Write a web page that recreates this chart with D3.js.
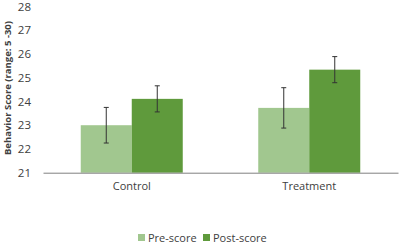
<!DOCTYPE html>
<html><head><meta charset="utf-8">
<script src="https://cdn.jsdelivr.net/npm/d3@7"></script>
<style>body{margin:0;background:#fff}svg{display:block}text{font-family:"Open Sans",Calibri,sans-serif}</style>
</head><body><svg id="c" width="400" height="245"></svg>
<script>
const categories = ["Control", "Treatment"];
const seriesNames = ["Pre-score", "Post-score"];
const preScore = [23.0, 23.73];
const postScore = [24.11, 25.34];
const preErr = [0.75, 0.85];
const postErr = [0.55, 0.55];
const yTicks = [21, 22, 23, 24, 25, 26, 27, 28];
const colors = ["#a1c78f", "#5f9a3c"];

const svg = d3.select("#c");
const x0 = d3.scaleBand().domain(categories).range([43, 398]).paddingInner(0).paddingOuter(0);
const y = d3.scaleLinear().domain([21, 28]).range([172.7, 6.5]);
const x1 = d3.scaleBand().domain(seriesNames).range([0, 102]);

const data = categories.map((c, i) => ({cat: c, vals: [
  {s: seriesNames[0], v: preScore[i], e: preErr[i]},
  {s: seriesNames[1], v: postScore[i], e: postErr[i]}]}));

// y axis labels
const yAxis = d3.axisLeft(y).tickValues(yTicks).tickFormat(d3.format("d")).tickSize(0).tickPadding(6);
const ga = svg.append("g").attr("transform", "translate(36,0)").call(yAxis);
ga.select(".domain").remove();
ga.selectAll("text").attr("font-size", 11.5).attr("fill", "#404040").attr("x", -5);

const groups = svg.selectAll(".grp").data(data).join("g")
  .attr("transform", d => `translate(${x0(d.cat) + x0.bandwidth()/2 - 51},0)`);
groups.selectAll("rect").data(d => d.vals).join("rect")
  .attr("x", d => x1(d.s)).attr("width", x1.bandwidth())
  .attr("y", d => y(d.v)).attr("height", d => y(21) - y(d.v))
  .attr("fill", (d, i) => colors[i]);
// error bars
groups.selectAll("g.err").data(d => d.vals).join("g").attr("class", "err").each(function(d) {
  const g = d3.select(this);
  const cx = x1(d.s) + x1.bandwidth()/2;
  g.append("line").attr("x1", cx).attr("x2", cx).attr("y1", y(d.v + d.e)).attr("y2", y(d.v - d.e));
  g.append("line").attr("x1", cx-2.5).attr("x2", cx+2.5).attr("y1", y(d.v + d.e)).attr("y2", y(d.v + d.e));
  g.append("line").attr("x1", cx-2.5).attr("x2", cx+2.5).attr("y1", y(d.v - d.e)).attr("y2", y(d.v - d.e));
  g.selectAll("line").attr("stroke", "#333").attr("stroke-width", 1);
});

// x axis
const xAxis = d3.axisBottom(x0).tickSize(0).tickPadding(10);
const gx = svg.append("g").attr("transform", `translate(0,${y(21)})`).call(xAxis);
gx.select(".domain").attr("stroke", "#808080").attr("stroke-width", 1);
gx.selectAll("text").attr("font-size", 11).attr("fill", "#404040");

// y title
svg.append("text").attr("transform", "translate(11,88) rotate(-90)")
  .attr("text-anchor", "middle").attr("font-weight", "bold").attr("font-size", 9.5)
  .attr("fill", "#404040").text("Behavior Score (range: 5 -30)");

// legend
const leg = svg.append("g");
const legX = [138, 203];
seriesNames.forEach((s, i) => {
  leg.append("rect").attr("x", legX[i]).attr("y", 234).attr("width", 7).attr("height", 7).attr("fill", colors[i]);
  leg.append("text").attr("x", legX[i] + 10).attr("y", 241.5).attr("font-size", 11).attr("fill", "#404040").text(s);
});
</script></body></html>
